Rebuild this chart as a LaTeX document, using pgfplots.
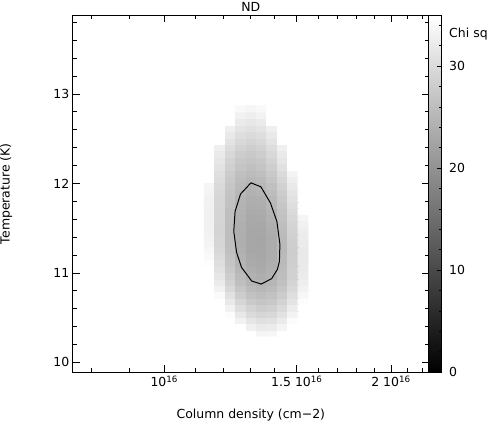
\documentclass[border=0pt]{standalone}
\usepackage{fontspec}
\setmainfont{DejaVu Sans}
\usepackage{pgfplots}
\pgfplotsset{compat=1.18}
\pgfplotsset{/pgf/number format/assume math mode=true}

\begin{document}
\begin{tikzpicture}[font=\fontsize{12.5}{15}\selectfont]
\begin{axis}[
    scale only axis, width=357pt, height=358pt,
    xmode=log, xmin=7.56e15, xmax=2.246e16,
    ymin=9.89, ymax=13.88,
    xtick={1e16,1.5e16,2e16},
    xticklabels={10\textsuperscript{16}, 1.5 10\textsuperscript{16}, 2 10\textsuperscript{16}},
    minor xtick={8e15,9e15,1.1e16,1.2e16,1.3e16,1.4e16,1.6e16,1.7e16,1.8e16,1.9e16,2.1e16,2.2e16},
    ytick={10,11,12,13},
    minor ytick={10.2,10.4,10.6,10.8,11.2,11.4,11.6,11.8,12.2,12.4,12.6,12.8,13.2,13.4,13.6,13.8},
    tick align=inside,
    major tick length=7pt, minor tick length=4pt,
    every tick/.append style={black, line width=0.8pt},
    axis line style={line width=1pt},
    title={ND},
    title style={inner sep=2.7pt, yshift=-5.5pt},
    xlabel={Column density (cm−2)},
    ylabel={Temperature (K)},
    xlabel style={inner sep=0pt, at={(axis description cs:0.5,-0.1034)}, anchor=north},
    ylabel style={inner sep=0pt, at={(axis description cs:-0.1695,0.5)}, anchor=south},
    colormap={bw}{gray(0cm)=(0); gray(1cm)=(1)},
    point meta min=0, point meta max=35,
    axis on top,
    colorbar,
    colorbar shift/.style={},
    colorbar style={
        at={(parent axis.north east)}, anchor=north west,
        width=13pt,
        ytick={0,10,20,30},
        minor ytick={2,4,6,8,12,14,16,18,22,24,26,28,32,34},
        ytick pos=right, yticklabel pos=right,
        tick align=inside,
        major tick length=5pt, minor tick length=3pt,
        every tick/.append style={black, line width=0.8pt},
        axis line style={line width=1pt},
        yticklabel style={xshift=4pt},
        extra description/.code={\node[anchor=west, xshift=4pt] at (1,0.947) {Chi sq};},
    },
]
% chi-square grid (35 = outside display range)
\addplot[matrix plot*, mesh/cols=10, point meta=explicit] table[meta=c] {
x y c
1.1478e16 10.326 35
1.1849e16 10.326 35
1.2232e16 10.326 35
1.2627e16 10.326 35
1.3035e16 10.326 35
1.3457e16 10.326 33.4
1.3892e16 10.326 33.5
1.4341e16 10.326 35
1.4804e16 10.326 35
1.5283e16 10.326 35
1.1478e16 10.397 35
1.1849e16 10.397 35
1.2232e16 10.397 35
1.2627e16 10.397 35
1.3035e16 10.397 32.7
1.3457e16 10.397 31.9
1.3892e16 10.397 32.1
1.4341e16 10.397 33.3
1.4804e16 10.397 35
1.5283e16 10.397 35
1.1478e16 10.469 35
1.1849e16 10.469 35
1.2232e16 10.469 35
1.2627e16 10.469 33.0
1.3035e16 10.469 31.3
1.3457e16 10.469 30.5
1.3892e16 10.469 30.8
1.4341e16 10.469 32.0
1.4804e16 10.469 34.3
1.5283e16 10.469 35
1.1478e16 10.541 35
1.1849e16 10.541 35
1.2232e16 10.541 34.3
1.2627e16 10.541 31.6
1.3035e16 10.541 29.9
1.3457e16 10.541 29.2
1.3892e16 10.541 29.5
1.4341e16 10.541 30.8
1.4804e16 10.541 33.1
1.5283e16 10.541 35
1.1478e16 10.612 35
1.1849e16 10.612 35
1.2232e16 10.612 33.0
1.2627e16 10.612 30.3
1.3035e16 10.612 28.7
1.3457e16 10.612 28.0
1.3892e16 10.612 28.4
1.4341e16 10.612 29.7
1.4804e16 10.612 32.1
1.5283e16 10.612 34.8
1.1478e16 10.684 35
1.1849e16 10.684 34.8
1.2232e16 10.684 31.7
1.2627e16 10.684 29.1
1.3035e16 10.684 27.5
1.3457e16 10.684 26.9
1.3892e16 10.684 27.3
1.4341e16 10.684 28.7
1.4804e16 10.684 31.1
1.5283e16 10.684 34.5
1.1478e16 10.755 35
1.1849e16 10.755 34.1
1.2232e16 10.755 30.6
1.2627e16 10.755 28.0
1.3035e16 10.755 26.5
1.3457e16 10.755 25.9
1.3892e16 10.755 26.4
1.4341e16 10.755 27.8
1.4804e16 10.755 30.3
1.5283e16 10.755 33.7
1.1478e16 10.827 35
1.1849e16 10.827 33.0
1.2232e16 10.827 29.5
1.2627e16 10.827 27.0
1.3035e16 10.827 25.5
1.3457e16 10.827 25.0
1.3892e16 10.827 25.5
1.4341e16 10.827 27.0
1.4804e16 10.827 29.5
1.5283e16 10.827 33.0
1.1478e16 10.899 35
1.1849e16 10.899 32.0
1.2232e16 10.899 28.6
1.2627e16 10.899 26.1
1.3035e16 10.899 24.7
1.3457e16 10.899 24.2
1.3892e16 10.899 24.8
1.4341e16 10.899 26.3
1.4804e16 10.899 28.9
1.5283e16 10.899 32.4
1.1478e16 10.970 35
1.1849e16 10.970 31.3
1.2232e16 10.970 27.9
1.2627e16 10.970 25.5
1.3035e16 10.970 24.1
1.3457e16 10.970 23.7
1.3892e16 10.970 24.3
1.4341e16 10.970 25.9
1.4804e16 10.970 28.5
1.5283e16 10.970 32.1
1.1478e16 11.042 34.8
1.1849e16 11.042 30.7
1.2232e16 11.042 27.4
1.2627e16 11.042 25.0
1.3035e16 11.042 23.7
1.3457e16 11.042 23.3
1.3892e16 11.042 24.0
1.4341e16 11.042 25.6
1.4804e16 11.042 28.3
1.5283e16 11.042 31.9
1.1478e16 11.114 34.5
1.1849e16 11.114 30.2
1.2232e16 11.114 26.9
1.2627e16 11.114 24.6
1.3035e16 11.114 23.3
1.3457e16 11.114 23.0
1.3892e16 11.114 23.7
1.4341e16 11.114 25.4
1.4804e16 11.114 28.1
1.5283e16 11.114 31.8
1.1478e16 11.185 34.1
1.1849e16 11.185 29.8
1.2232e16 11.185 26.6
1.2627e16 11.185 24.3
1.3035e16 11.185 23.1
1.3457e16 11.185 22.8
1.3892e16 11.185 23.6
1.4341e16 11.185 25.3
1.4804e16 11.185 28.1
1.5283e16 11.185 31.8
1.1478e16 11.257 33.6
1.1849e16 11.257 29.4
1.2232e16 11.257 26.2
1.2627e16 11.257 24.0
1.3035e16 11.257 22.8
1.3457e16 11.257 22.6
1.3892e16 11.257 23.4
1.4341e16 11.257 25.2
1.4804e16 11.257 28.0
1.5283e16 11.257 31.8
1.1478e16 11.328 33.3
1.1849e16 11.328 29.2
1.2232e16 11.328 26.0
1.2627e16 11.328 23.9
1.3035e16 11.328 22.7
1.3457e16 11.328 22.6
1.3892e16 11.328 23.4
1.4341e16 11.328 25.3
1.4804e16 11.328 28.1
1.5283e16 11.328 32.0
1.1478e16 11.400 33.1
1.1849e16 11.400 29.0
1.2232e16 11.400 25.9
1.2627e16 11.400 23.8
1.3035e16 11.400 22.7
1.3457e16 11.400 22.6
1.3892e16 11.400 23.5
1.4341e16 11.400 25.4
1.4804e16 11.400 28.3
1.5283e16 11.400 32.2
1.1478e16 11.472 33.0
1.1849e16 11.472 28.9
1.2232e16 11.472 25.9
1.2627e16 11.472 23.8
1.3035e16 11.472 22.8
1.3457e16 11.472 22.7
1.3892e16 11.472 23.7
1.4341e16 11.472 25.6
1.4804e16 11.472 28.6
1.5283e16 11.472 32.5
1.1478e16 11.543 32.9
1.1849e16 11.543 28.9
1.2232e16 11.543 25.9
1.2627e16 11.543 23.9
1.3035e16 11.543 22.9
1.3457e16 11.543 22.9
1.3892e16 11.543 23.9
1.4341e16 11.543 25.9
1.4804e16 11.543 28.9
1.5283e16 11.543 32.9
1.1478e16 11.615 32.9
1.1849e16 11.615 29.0
1.2232e16 11.615 26.0
1.2627e16 11.615 24.1
1.3035e16 11.615 23.1
1.3457e16 11.615 23.2
1.3892e16 11.615 24.2
1.4341e16 11.615 26.3
1.4804e16 11.615 29.3
1.5283e16 11.615 33.4
1.1478e16 11.687 32.9
1.1849e16 11.687 29.0
1.2232e16 11.687 26.1
1.2627e16 11.687 24.2
1.3035e16 11.687 23.3
1.3457e16 11.687 23.4
1.3892e16 11.687 24.5
1.4341e16 11.687 26.6
1.4804e16 11.687 29.7
1.5283e16 11.687 35
1.1478e16 11.758 33.0
1.1849e16 11.758 29.1
1.2232e16 11.758 26.3
1.2627e16 11.758 24.4
1.3035e16 11.758 23.6
1.3457e16 11.758 23.7
1.3892e16 11.758 24.9
1.4341e16 11.758 27.0
1.4804e16 11.758 30.2
1.5283e16 11.758 35
1.1478e16 11.830 33.0
1.1849e16 11.830 29.2
1.2232e16 11.830 26.4
1.2627e16 11.830 24.6
1.3035e16 11.830 23.8
1.3457e16 11.830 24.0
1.3892e16 11.830 25.2
1.4341e16 11.830 27.4
1.4804e16 11.830 30.6
1.5283e16 11.830 35
1.1478e16 11.901 33.2
1.1849e16 11.901 29.5
1.2232e16 11.901 26.7
1.2627e16 11.901 25.0
1.3035e16 11.901 24.2
1.3457e16 11.901 24.5
1.3892e16 11.901 25.7
1.4341e16 11.901 28.0
1.4804e16 11.901 31.2
1.5283e16 11.901 35
1.1478e16 11.973 33.4
1.1849e16 11.973 29.7
1.2232e16 11.973 27.0
1.2627e16 11.973 25.3
1.3035e16 11.973 24.6
1.3457e16 11.973 24.9
1.3892e16 11.973 26.2
1.4341e16 11.973 28.5
1.4804e16 11.973 31.8
1.5283e16 11.973 35
1.1478e16 12.045 35
1.1849e16 12.045 30.1
1.2232e16 12.045 27.4
1.2627e16 12.045 25.8
1.3035e16 12.045 25.1
1.3457e16 12.045 25.5
1.3892e16 12.045 26.8
1.4341e16 12.045 29.2
1.4804e16 12.045 32.5
1.5283e16 12.045 35
1.1478e16 12.116 35
1.1849e16 12.116 30.4
1.2232e16 12.116 27.8
1.2627e16 12.116 26.2
1.3035e16 12.116 25.6
1.3457e16 12.116 26.0
1.3892e16 12.116 27.4
1.4341e16 12.116 29.8
1.4804e16 12.116 33.2
1.5283e16 12.116 35
1.1478e16 12.188 35
1.1849e16 12.188 30.9
1.2232e16 12.188 28.3
1.2627e16 12.188 26.8
1.3035e16 12.188 26.2
1.3457e16 12.188 26.7
1.3892e16 12.188 28.1
1.4341e16 12.188 30.6
1.4804e16 12.188 35
1.5283e16 12.188 35
1.1478e16 12.260 35
1.1849e16 12.260 31.3
1.2232e16 12.260 28.8
1.2627e16 12.260 27.3
1.3035e16 12.260 26.8
1.3457e16 12.260 27.3
1.3892e16 12.260 28.8
1.4341e16 12.260 31.3
1.4804e16 12.260 35
1.5283e16 12.260 35
1.1478e16 12.331 35
1.1849e16 12.331 31.9
1.2232e16 12.331 29.4
1.2627e16 12.331 27.9
1.3035e16 12.331 27.4
1.3457e16 12.331 27.9
1.3892e16 12.331 29.4
1.4341e16 12.331 31.9
1.4804e16 12.331 35
1.5283e16 12.331 35
1.1478e16 12.403 35
1.1849e16 12.403 32.6
1.2232e16 12.403 30.1
1.2627e16 12.403 28.6
1.3035e16 12.403 28.1
1.3457e16 12.403 28.6
1.3892e16 12.403 30.1
1.4341e16 12.403 32.6
1.4804e16 12.403 35
1.5283e16 12.403 35
1.1478e16 12.475 35
1.1849e16 12.475 35
1.2232e16 12.475 30.9
1.2627e16 12.475 29.4
1.3035e16 12.475 28.9
1.3457e16 12.475 29.4
1.3892e16 12.475 30.9
1.4341e16 12.475 35
1.4804e16 12.475 35
1.5283e16 12.475 35
1.1478e16 12.546 35
1.1849e16 12.546 35
1.2232e16 12.546 31.7
1.2627e16 12.546 30.2
1.3035e16 12.546 29.7
1.3457e16 12.546 30.2
1.3892e16 12.546 31.7
1.4341e16 12.546 35
1.4804e16 12.546 35
1.5283e16 12.546 35
1.1478e16 12.618 35
1.1849e16 12.618 35
1.2232e16 12.618 32.6
1.2627e16 12.618 31.1
1.3035e16 12.618 30.6
1.3457e16 12.618 31.1
1.3892e16 12.618 32.6
1.4341e16 12.618 35
1.4804e16 12.618 35
1.5283e16 12.618 35
1.1478e16 12.689 35
1.1849e16 12.689 35
1.2232e16 12.689 35
1.2627e16 12.689 32.0
1.3035e16 12.689 31.5
1.3457e16 12.689 32.0
1.3892e16 12.689 35
1.4341e16 12.689 35
1.4804e16 12.689 35
1.5283e16 12.689 35
1.1478e16 12.761 35
1.1849e16 12.761 35
1.2232e16 12.761 35
1.2627e16 12.761 33.0
1.3035e16 12.761 32.5
1.3457e16 12.761 33.0
1.3892e16 12.761 35
1.4341e16 12.761 35
1.4804e16 12.761 35
1.5283e16 12.761 35
1.1478e16 12.833 35
1.1849e16 12.833 35
1.2232e16 12.833 35
1.2627e16 12.833 34.0
1.3035e16 12.833 33.5
1.3457e16 12.833 34.0
1.3892e16 12.833 35
1.4341e16 12.833 35
1.4804e16 12.833 35
1.5283e16 12.833 35
};
% contour
\addplot[black, line width=1pt, mark=none] coordinates {
(1.3036e16,12.007) (1.3439e16,11.962) (1.3835e16,11.782) (1.4112e16,11.575)
(1.4242e16,11.319) (1.4220e16,11.129) (1.4134e16,11.040) (1.3886e16,10.936)
(1.3451e16,10.876) (1.3064e16,10.910) (1.2665e16,11.062) (1.2474e16,11.230)
(1.2368e16,11.464) (1.2417e16,11.687) (1.2627e16,11.882) (1.3036e16,12.007)
};
\end{axis}
\end{tikzpicture}
\end{document}
